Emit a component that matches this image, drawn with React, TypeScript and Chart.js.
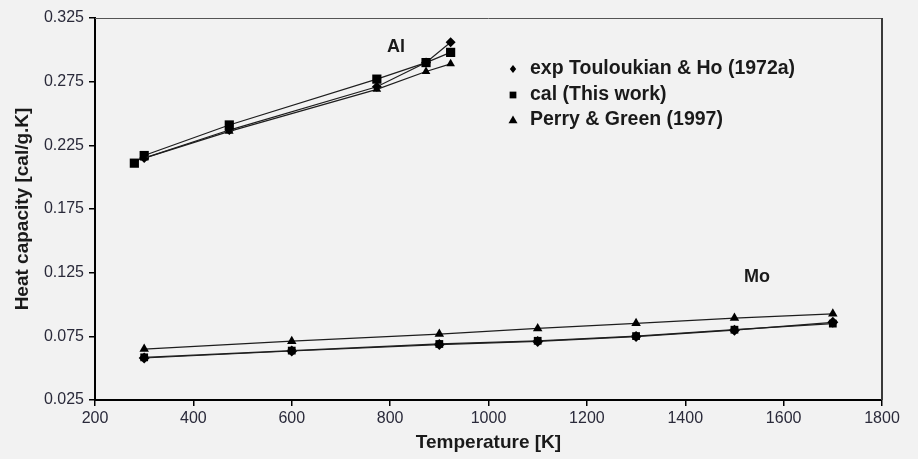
import React, { useEffect, useRef } from "react";
import { Chart, registerables } from "chart.js";

Chart.register(...registerables);

// ---- Data ----
const alTempsExp = [300, 473, 773, 873, 923];
const alExp = [0.215, 0.237, 0.271, 0.29, 0.306];

const alTempsCal = [280, 300, 473, 773, 873, 923];
const alCal = [0.211, 0.217, 0.241, 0.277, 0.29, 0.298];

const alTempsPerry = [300, 473, 773, 873, 923];
const alPerry = [0.215, 0.236, 0.269, 0.283, 0.289];

const moTemps = [300, 600, 900, 1100, 1300, 1500, 1700];
const moExp = [0.058, 0.0635, 0.0685, 0.071, 0.0748, 0.0798, 0.086];
const moCal = [0.0585, 0.0638, 0.069, 0.0715, 0.0752, 0.0802, 0.085];
const moPerry = [0.065, 0.0712, 0.0768, 0.0812, 0.0852, 0.0893, 0.0927];

const legendLabels = ["exp Touloukian & Ho (1972a)", "cal (This work)", "Perry & Green (1997)"];
const legendStyles = ["rectRot", "rect", "triangle"];

const xTitle = "Temperature [K]";
const yTitle = "Heat capacity [cal/g.K]";

const FONT = "'Liberation Sans', Arial, sans-serif";

function pts(xs: number[], ys: number[]) {
  return xs.map((x, i) => ({ x, y: ys[i] }));
}

export default function App() {
  const ref = useRef<HTMLCanvasElement>(null);

  useEffect(() => {
    document.body.style.margin = "0";
    const canvas = ref.current!;

    const line = (data: any[], style: string, radius: number) => ({
      data,
      showLine: true,
      borderColor: "#1e1e1e",
      borderWidth: 1.2,
      pointStyle: style,
      pointRadius: radius,
      pointBackgroundColor: "#000",
      pointBorderColor: "#000",
      pointBorderWidth: 0,
      fill: false,
    });

    function drawMarker(ctx: CanvasRenderingContext2D, style: string, x: number, y: number, r: number) {
      ctx.beginPath();
      if (style === "rectRot") {
        ctx.moveTo(x, y - r);
        ctx.lineTo(x + r * 0.8, y);
        ctx.lineTo(x, y + r);
        ctx.lineTo(x - r * 0.8, y);
      } else if (style === "rect") {
        ctx.rect(x - r * 0.75, y - r * 0.75, r * 1.5, r * 1.5);
      } else {
        ctx.moveTo(x, y - r);
        ctx.lineTo(x + r, y + r * 0.7);
        ctx.lineTo(x - r, y + r * 0.7);
      }
      ctx.closePath();
      ctx.fill();
    }

    const decor = {
      id: "decor",
      afterDraw(chart: any) {
        const ctx = chart.ctx as CanvasRenderingContext2D;
        const ca = chart.chartArea;
        ctx.save();
        // frame top and right
        ctx.strokeStyle = "#555";
        ctx.lineWidth = 1;
        ctx.beginPath();
        ctx.moveTo(ca.left, ca.top + 0.5);
        ctx.lineTo(ca.right, ca.top + 0.5);
        ctx.stroke();
        ctx.strokeStyle = "#3a3a3a";
        ctx.lineWidth = 2;
        ctx.beginPath();
        ctx.moveTo(ca.right, ca.top);
        ctx.lineTo(ca.right, ca.bottom);
        ctx.stroke();

        // axis titles
        ctx.fillStyle = "#1a1a1a";
        ctx.font = `bold 19px ${FONT}`;
        ctx.textAlign = "center";
        ctx.textBaseline = "middle";
        ctx.fillText(xTitle, (ca.left + ca.right) / 2, 443);
        ctx.save();
        ctx.translate(23, (ca.top + ca.bottom) / 2);
        ctx.rotate(-Math.PI / 2);
        ctx.fillText(yTitle, 0, 0);
        ctx.restore();

        // series labels
        ctx.font = `bold 18px ${FONT}`;
        ctx.fillText("Al", 396, 47);
        ctx.fillText("Mo", 757, 277);

        // legend
        ctx.font = `bold 19.5px ${FONT}`;
        ctx.textAlign = "left";
        const rows = [69, 95, 120];
        const radii = [4, 4.5, 4.5];
        legendLabels.forEach((label, i) => {
          ctx.fillStyle = "#000";
          drawMarker(ctx, legendStyles[i], 513, rows[i], radii[i]);
          ctx.fillStyle = "#1a1a1a";
          ctx.fillText(label, 530, rows[i]);
        });
        ctx.restore();
      },
    };

    const chart = new Chart(canvas, {
      type: "scatter",
      data: {
        datasets: [
          line(pts(alTempsPerry, alPerry), "triangle", 5),
          line(pts(alTempsCal, alCal), "rect", 6.5),
          line(pts(alTempsExp, alExp), "rectRot", 5),
          line(pts(moTemps, moPerry), "triangle", 5.5),
          line(pts(moTemps, moCal), "rect", 5.5),
          line(pts(moTemps, moExp), "rectRot", 5.5),
        ] as any,
      },
      options: {
        animation: false,
        responsive: false,
        devicePixelRatio: 1,
        layout: { padding: { left: 0, top: 18, right: 36, bottom: 0 } },
        plugins: {
          legend: { display: false },
          tooltip: { enabled: false },
        },
        scales: {
          x: {
            type: "linear",
            min: 200,
            max: 1800,
            afterFit: (s: any) => {
              s.height = 59;
            },
            ticks: {
              stepSize: 200,
              color: "#2a2a3a",
              font: { family: FONT, size: 16 },
              padding: 3,
              maxRotation: 0,
              callback: (v: any) => String(v),
            },
            grid: {
              display: true,
              drawOnChartArea: false,
              drawTicks: true,
              tickLength: 6,
              color: "#000",
              lineWidth: 1.5,
            },
            border: { display: true, color: "#000", width: 2 },
          },
          y: {
            type: "linear",
            min: 0.025,
            max: 0.325,
            afterFit: (s: any) => {
              s.width = 95;
            },
            afterBuildTicks: (s: any) => {
              const t = [];
              for (let v = 0.025; v <= 0.3251; v += 0.05) t.push({ value: Math.round(v * 1000) / 1000 });
              s.ticks = t;
            },
            ticks: {
              color: "#2a2a3a",
              font: { family: FONT, size: 16 },
              padding: 5,
              callback: (v: any) => Number(v).toFixed(3),
            },
            grid: {
              display: true,
              drawOnChartArea: false,
              drawTicks: true,
              tickLength: 6,
              color: "#000",
              lineWidth: 1.5,
            },
            border: { display: true, color: "#000", width: 2 },
          },
        },
      },
      plugins: [decor],
    });

    return () => chart.destroy();
  }, []);

  return (
    <div style={{ width: 918, height: 459, background: "#f2f2f2" }}>
      <canvas ref={ref} width={918} height={459} style={{ width: 918, height: 459, display: "block" }} />
    </div>
  );
}
